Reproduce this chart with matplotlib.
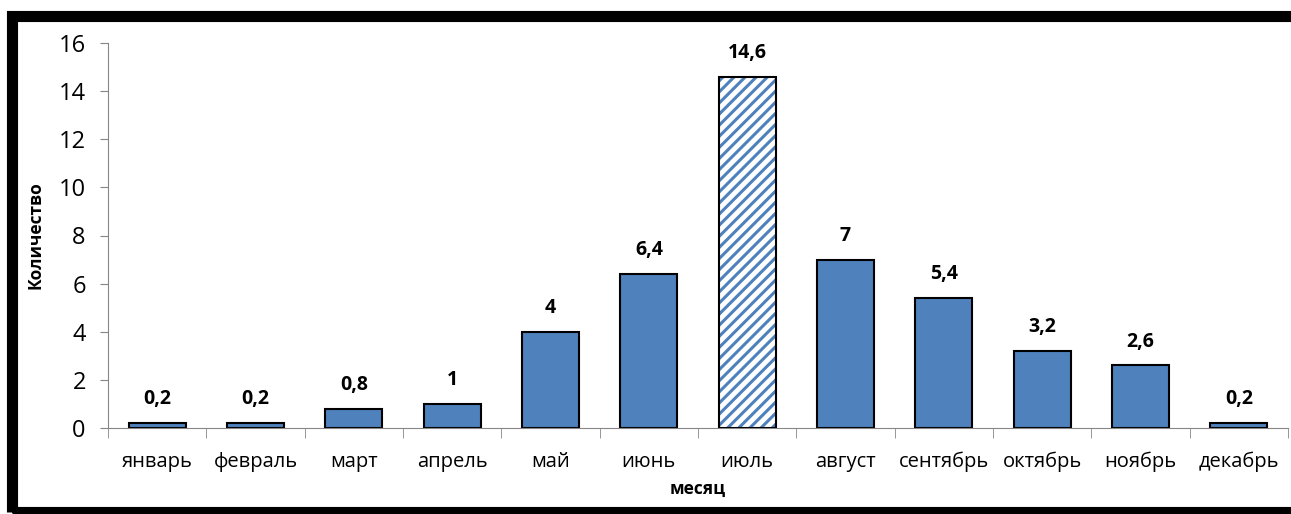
import matplotlib.pyplot as plt
from matplotlib.patches import Rectangle
import numpy as np

plt.rcParams['font.family'] = ['Open Sans', 'DejaVu Sans']
plt.rcParams['hatch.linewidth'] = 2.2

months = ['январь', 'февраль', 'март', 'апрель', 'май', 'июнь',
          'июль', 'август', 'сентябрь', 'октябрь', 'ноябрь', 'декабрь']
counts = [0.2, 0.2, 0.8, 1, 4, 6.4, 14.6, 7, 5.4, 3.2, 2.6, 0.2]
labels = ['0,2', '0,2', '0,8', '1', '4', '6,4', '14,6', '7', '5,4', '3,2', '2,6', '0,2']
highlight = 'июль'

fig = plt.figure(figsize=(12.91, 5.14), dpi=100)
ax = fig.add_axes([108 / 1291, 1 - 428 / 514, 1180 / 1291, 385 / 514])

x = np.arange(len(months))
for i, (m, v) in enumerate(zip(months, counts)):
    if m == highlight:
        # hatch takes the edge colour, so draw the fill and the outline separately
        ax.bar(i, v, width=0.58, color='white', edgecolor='#4F81BD',
               linewidth=0, hatch='///', zorder=2)
        ax.bar(i, v, width=0.58, fill=False, edgecolor='black',
               linewidth=1.5, zorder=3)
    else:
        ax.bar(i, v, width=0.58, color='#4F81BD', edgecolor='black',
               linewidth=1.5, zorder=2)
    ax.annotate(labels[i], (i, v), xytext=(0, 10), textcoords='offset points',
                ha='center', va='bottom', fontsize=14, fontweight='bold')

ax.set_xlim(-0.5, len(months) - 0.5)
ax.set_ylim(0, 16)
ax.set_yticks(range(0, 17, 2))
ax.tick_params(axis='y', labelsize=17, length=6, color='#868686', pad=10)
ax.set_xticks(x)
ax.set_xticklabels(months, fontsize=14.5)
ax.tick_params(axis='x', which='major', length=0, pad=17)
ax.set_xticks(np.arange(-0.5, len(months)), minor=True)
ax.tick_params(axis='x', which='minor', length=7, color='#868686')

for side in ['top', 'right']:
    ax.spines[side].set_visible(False)
for side in ['left', 'bottom']:
    ax.spines[side].set_color('#868686')

ax.set_ylabel('Количество', fontsize=12.5, fontweight='bold', labelpad=10)
ax.set_xlabel('месяц', fontsize=12.5, fontweight='bold', labelpad=6)

# thick frame around the chart
fig.patches.append(Rectangle((12 / 1291, 2 / 514), 1.2, 1 - 17.5 / 514,
                             transform=fig.transFigure, fill=False,
                             edgecolor='black', linewidth=8, zorder=10))

fig.savefig('out.png', dpi=100)
